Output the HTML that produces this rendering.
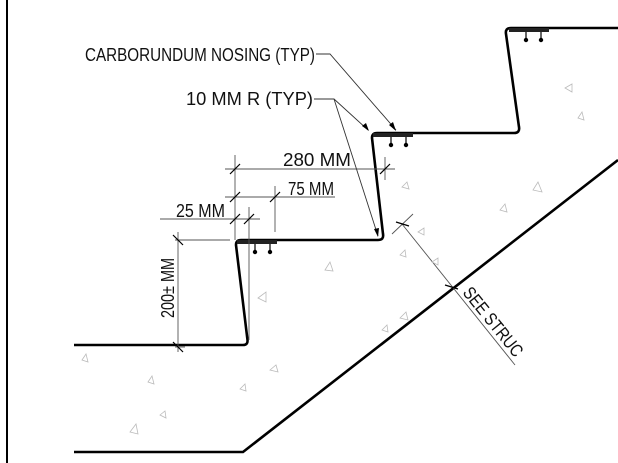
<!DOCTYPE html>
<html><head><style>html,body{margin:0;padding:0;background:#fff}svg{display:block}</style></head>
<body>
<svg width="618" height="463" viewBox="0 0 618 463" xmlns="http://www.w3.org/2000/svg" font-family="Liberation Sans, sans-serif">
<line x1="7" y1="0" x2="7" y2="463" stroke="#000" stroke-width="2"/>
<path d="M74 345 L243 345 Q248 345 247.5 340 L236 245 Q236 240 241 240 L378 240 Q384 240 383 234 L372 138 Q372 133 377 133 L514 133 Q520 133 519 127 L506 34 Q505 28 511 28 L618 28" fill="none" stroke="#000" stroke-width="2.6"/>
<path d="M74 452 L243 452 L618 160" fill="none" stroke="#000" stroke-width="2.6"/>
<g fill="#222">
<rect x="237" y="240" width="40" height="4"/><rect x="373" y="133" width="40" height="4"/><rect x="509" y="28" width="40" height="4"/>
</g>
<g stroke="#000" stroke-width="1.2" fill="#000">
<line x1="255" y1="244" x2="255" y2="252"/><line x1="270" y1="244" x2="270" y2="252"/>
<line x1="391" y1="137" x2="391" y2="145"/><line x1="406" y1="137" x2="406" y2="145"/>
<line x1="526" y1="32" x2="526" y2="40"/><line x1="541" y1="32" x2="541" y2="40"/>
<circle cx="255" cy="252" r="1.6"/><circle cx="270" cy="252" r="1.6"/>
<circle cx="391" cy="145" r="1.6"/><circle cx="406" cy="145" r="1.6"/>
<circle cx="526" cy="40" r="1.6"/><circle cx="541" cy="40" r="1.6"/>
</g>
<g stroke="#555" stroke-width="0.9" fill="none">
<line x1="175" y1="240" x2="230" y2="240"/><line x1="175" y1="347" x2="185" y2="347"/>
<line x1="178" y1="232" x2="178" y2="352"/>
<line x1="235" y1="155" x2="235" y2="240"/><line x1="249" y1="207" x2="249" y2="340"/>
<line x1="275" y1="186" x2="275" y2="232"/><line x1="385" y1="157" x2="385" y2="180"/>
<line x1="225" y1="169" x2="395" y2="169"/><line x1="225" y1="197" x2="335" y2="197"/>
<line x1="160" y1="219" x2="260" y2="219"/>
<line x1="402" y1="224" x2="515" y2="365"/>
<line x1="392" y1="234" x2="413" y2="214"/>
</g>
<g stroke="#000" stroke-width="1.2">
<line x1="230" y1="174" x2="240" y2="164"/><line x1="380" y1="174" x2="390" y2="164"/>
<line x1="230" y1="202" x2="240" y2="192"/><line x1="270" y1="202" x2="280" y2="192"/>
<line x1="230" y1="224" x2="240" y2="214"/><line x1="244" y1="224" x2="254" y2="214"/>
<line x1="173" y1="235" x2="183" y2="245"/><line x1="173" y1="342" x2="183" y2="352"/>
<line x1="396" y1="222" x2="409" y2="226"/><line x1="445" y1="285" x2="458" y2="289"/>
</g>
<g stroke="#333" stroke-width="0.9" fill="none">
<polyline points="316,54 330,54 396,130"/>
<polyline points="314,99 334,99 368,130"/>
<line x1="334" y1="99" x2="378" y2="236"/>
</g>
<g fill="#000">
<polygon points="396,131 389,125 393,122"/>
<polygon points="369,131 362,126 366,123"/>
<polygon points="378,237 374,229 379,228"/>
</g>
<g stroke="#bbb" stroke-width="0.8" fill="none">
<polygon points="258,298 266,292 266,302"/><polygon points="325,270 330,262 333,271"/>
<polygon points="82,360 86,354 88,362"/><polygon points="148,382 152,376 154,384"/>
<polygon points="130,432 136,424 138,434"/><polygon points="160,415 165,411 166,418"/>
<polygon points="240,389 245,384 246,391"/><polygon points="270,370 276,365 278,372"/>
<polygon points="382,330 387,325 388,332"/><polygon points="400,318 406,312 408,320"/>
<polygon points="432,262 438,258 438,265"/><polygon points="500,210 505,204 507,212"/>
<polygon points="533,190 538,182 542,192"/><polygon points="565,88 572,84 572,92"/>
<polygon points="578,118 582,112 584,120"/><polygon points="400,255 405,250 406,257"/>
<polygon points="418,232 424,228 424,235"/><polygon points="402,187 407,182 409,189"/>
</g>
<g fill="#111" font-size="18">
<text x="85" y="61" textLength="230" lengthAdjust="spacingAndGlyphs">CARBORUNDUM NOSING (TYP)</text>
<text x="186" y="105" textLength="127" lengthAdjust="spacingAndGlyphs">10 MM R (TYP)</text>
<text x="283" y="166" textLength="68" lengthAdjust="spacingAndGlyphs">280 MM</text>
<text x="288" y="195" textLength="46" lengthAdjust="spacingAndGlyphs">75 MM</text>
<text x="176" y="217" textLength="49" lengthAdjust="spacingAndGlyphs">25 MM</text>
<text transform="translate(174,318) rotate(-90)" textLength="60" lengthAdjust="spacingAndGlyphs">200± MM</text>
<text transform="translate(462,293) rotate(51)" textLength="84" lengthAdjust="spacingAndGlyphs">SEE STRUC</text>
</g>
</svg>
</body></html>
